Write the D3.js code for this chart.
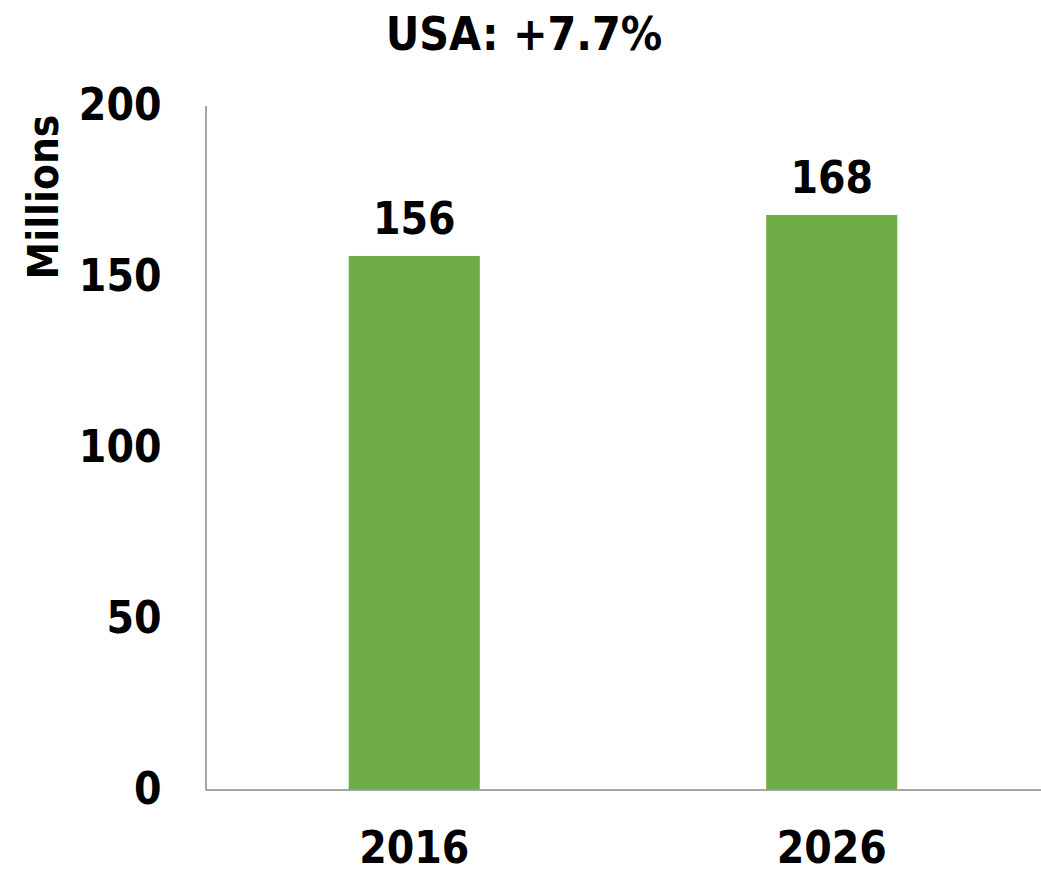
<!DOCTYPE html>
<html>
<head>
<meta charset="utf-8">
<script src="https://cdn.jsdelivr.net/npm/d3@7"></script>
<style>
  body { margin: 0; background: #fff; }
  svg text { font-family: "DejaVu Sans Condensed", "DejaVu Sans", sans-serif; font-stretch: condensed; font-weight: bold; fill: #000; }
</style>
</head>
<body>
<div class="chart"></div>
<script>
// chart data
const years = ['2016', '2026'];
const values = [156, 168];
const yTicks = [0, 50, 100, 150, 200];
const title = 'USA: +7.7%';
const yLabel = 'Millions';

const w = 1041;
const h = 870;
const margin = { top: 105.5, right: 0.5, bottom: 80.5, left: 205.5 };

const svg = d3
  .select('.chart')
  .append('svg')
  .attr('width', w)
  .attr('height', h);

const xScale = d3
  .scaleBand()
  .domain(years)
  .range([margin.left, w - margin.right])
  .paddingInner(0.686)
  .paddingOuter(0.343);

const yScale = d3
  .scaleLinear()
  .domain([0, 200])
  .range([h - margin.bottom, margin.top]);

// bars
svg
  .selectAll('rect.bar')
  .data(values)
  .enter()
  .append('rect')
  .attr('class', 'bar')
  .attr('x', (d, i) => xScale(years[i]))
  .attr('y', (d) => yScale(d))
  .attr('width', xScale.bandwidth())
  .attr('height', (d) => yScale(0) - yScale(d))
  .style('fill', '#70ad47');

// value labels
svg
  .selectAll('text.value')
  .data(values)
  .enter()
  .append('text')
  .attr('class', 'value')
  .attr('x', (d, i) => xScale(years[i]) + xScale.bandwidth() / 2)
  .attr('y', (d) => yScale(d) - 22)
  .attr('text-anchor', 'middle')
  .style('font-size', '44px')
  .text((d) => d);

// y axis
const yAxis = d3
  .axisLeft(yScale)
  .tickValues(yTicks)
  .tickSize(0)
  .tickPadding(44);

const yAxisG = svg
  .append('g')
  .attr('transform', `translate(${margin.left},0)`)
  .call(yAxis);
yAxisG.select('.domain').attr('stroke', '#898989').attr('stroke-width', 1.5);
yAxisG.selectAll('.tick text').style('font-size', '44px').attr('fill', '#000');

// x axis
const xAxis = d3.axisBottom(xScale).tickSize(0).tickPadding(42);
const xAxisG = svg
  .append('g')
  .attr('transform', `translate(0,${h - margin.bottom})`)
  .call(xAxis);
xAxisG.select('.domain').attr('stroke', '#898989').attr('stroke-width', 1.5);
xAxisG.selectAll('.tick text').style('font-size', '44px').attr('fill', '#000');

// title
svg
  .append('text')
  .attr('x', 524)
  .attr('y', 50)
  .attr('text-anchor', 'middle')
  .style('font-size', '46px')
  .text(title);

// y label
svg
  .append('text')
  .attr('transform', 'rotate(-90)')
  .attr('x', -197)
  .attr('y', 58)
  .attr('text-anchor', 'middle')
  .style('font-size', '42px')
  .text(yLabel);
</script>
</body>
</html>
